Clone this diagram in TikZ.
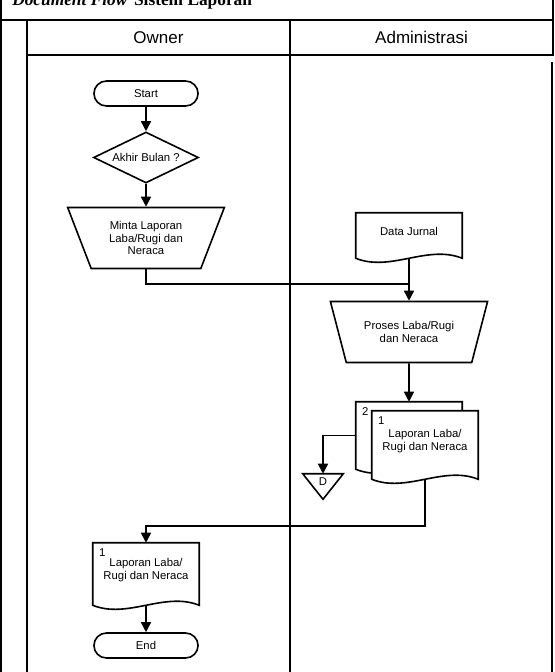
\documentclass[tikz,border=0pt]{standalone}
\usepackage{fontspec}
\setmainfont{Liberation Serif}
\setsansfont{Liberation Sans}
\usetikzlibrary{shapes.geometric,shapes.misc,arrows.meta,calc}
\pgfdeclarelayer{bg}
\pgfsetlayers{bg,main}

\newcommand{\boxfont}{\sffamily\fontsize{8.5}{9.2}\selectfont}
\newcommand{\docshape}[1]{%
  \begin{pgfonlayer}{bg}
  \draw[line width=1.2pt, fill=white] (#1.south west) -- (#1.north west)
    -- (#1.north east) -- (#1.south east)
    .. controls ($(#1.south east)+(-35,-14)$) and ($(#1.south west)+(35,14)$)
    .. (#1.south west) -- cycle;
  \end{pgfonlayer}}
\newcommand{\offshape}[1]{%
  \draw[line width=1.2pt] (#1.north west) -- (#1.north east) -- (#1.south) -- cycle;}

\begin{document}
\begin{tikzpicture}[x=0.75pt, y=-0.75pt,
  frame/.style = {line width=1.5pt},
  lanehead/.style = {draw, line width=1.5pt, minimum width=197.25pt,
    minimum height=26.25pt, font=\sffamily\fontsize{12.75}{15}\selectfont},
  term/.style = {rounded rectangle, draw, line width=1.2pt,
    minimum width=84.75pt, minimum height=18.75pt, font=\boxfont},
  decide/.style = {diamond, draw, line width=1.2pt, aspect=2, inner sep=0pt,
    minimum width=78.75pt, minimum height=38.25pt, font=\boxfont},
  manual/.style = {trapezium, trapezium left angle=67, trapezium right angle=67,
    shape border rotate=180, trapezium stretches=true, draw, line width=1.2pt,
    minimum width=118.5pt, minimum height=45.75pt, align=center, font=\boxfont},
  docnode/.style = {minimum width=79.5pt, inner sep=0pt},
  doctext/.style = {font=\boxfont, align=center, yshift=3pt},
  numtext/.style = {font=\boxfont, anchor=north west, inner sep=0pt,
    xshift=4.5pt, yshift=-4.5pt},
  offpage/.style = {minimum width=30pt, minimum height=18.75pt, inner sep=0pt},
  link/.style = {line width=1.2pt},
  arr/.style = {link, -{Triangle[length=7.5pt, width=7.5pt]}}]

  \useasboundingbox (0,0) rectangle (555,672);

  % frame and lanes
  \draw[frame] (1,-10) -- (1,672);
  \draw[frame] (553,-10) -- (553,55);
  \draw[frame] (552,62) -- (552,672);
  \draw[frame] (1,20) -- (553,20);
  \draw[frame] (27,20) -- (27,672);
  \draw[frame] (290,55) -- (290,672);
  \node[anchor=base west, inner sep=0pt, font=\rmfamily\bfseries\fontsize{13}{15}\selectfont]
    (title) at (12,5) {\textit{Document Flow}\hspace{5pt}Sistem Laporan};
  \node[lanehead] (owner) at (158.5,37.5) {Owner};
  \node[lanehead] (admin) at (421.5,37.5) {Administrasi};

  % owner
  \node[term] (start) at (146,93.5) {Start};
  \node[decide] (akhir) at (146,157.5) {Akhir Bulan ?};
  \node[manual] (minta) at (146,238) {Minta Laporan\\Laba/Rugi dan\\Neraca};

  % administrasi
  \node[docnode, minimum height=33.75pt,
    label={[doctext]center:Data Jurnal}] (jurnal) at (409,235.5) {};
  \docshape{jurnal}
  \node[manual] (proses) at (409,332) {Proses Laba/Rugi\\dan Neraca};
  \node[docnode, minimum height=50.25pt,
    label={[numtext]north west:2}] (lap2) at (409,435.5) {};
  \docshape{lap2}
  \node[docnode, minimum height=51pt,
    label={[numtext]north west:1},
    label={[doctext]center:Laporan Laba/\\Rugi dan Neraca}] (lap1) at (425,445) {};
  \docshape{lap1}
  \node[offpage, label={[font=\boxfont, yshift=3.6pt]center:D}] (d) at (323,486.5) {};
  \offshape{d}

  % owner, end
  \node[docnode, minimum height=46.5pt,
    label={[numtext]north west:1},
    label={[doctext]center:Laporan Laba/\\Rugi dan Neraca}] (lap3) at (146,574) {};
  \docshape{lap3}
  \node[term] (end) at (146,645.5) {End};

  % connectors
  \coordinate (j) at (409,284);
  \coordinate (k) at (425,526);
  \draw[arr] (start) -- (akhir);
  \draw[arr] (akhir) -- (minta);
  \draw[link] (minta) |- (j);
  \draw[arr] (jurnal.south) -- (proses);
  \draw[arr] (proses) -- (lap2.north);
  \draw[arr] (lap2.west) -| (d.north);
  \draw[arr] (lap1.south) -- (k) -| (lap3.north);
  \draw[arr] (lap3.south) -- (end);
\end{tikzpicture}
\end{document}
